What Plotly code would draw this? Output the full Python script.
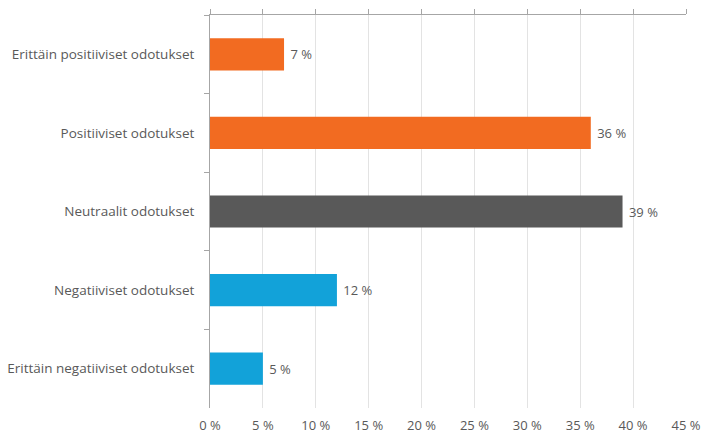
import plotly.graph_objects as go

categories = [
    "Erittäin positiiviset odotukset",
    "Positiiviset odotukset",
    "Neutraalit odotukset",
    "Negatiiviset odotukset",
    "Erittäin negatiiviset odotukset",
]
values = [7, 36, 39, 12, 5]
colors = ["#F26B21", "#F26B21", "#595959", "#12A2D9", "#12A2D9"]
x_ticks = [0, 5, 10, 15, 20, 25, 30, 35, 40, 45]
x_tick_labels = [f"{t} %" for t in x_ticks]

font_family = "Open Sans"
text_color = "#595959"

fig = go.Figure()

fig.add_trace(go.Bar(
    y=categories,
    x=values,
    orientation="h",
    marker=dict(color=colors, line=dict(width=0)),
    text=[f" {v} %" for v in values],
    textposition="outside",
    textfont=dict(size=13, color=text_color, family=font_family),
    cliponaxis=False,
    width=0.41,
))

# invisible trace so the top axis (ticks only) is drawn
fig.add_trace(go.Scatter(
    x=[0, 45], y=[categories[0], categories[0]],
    xaxis="x2", mode="markers", marker=dict(opacity=0),
    showlegend=False, hoverinfo="skip",
))

fig.update_layout(
    width=703, height=433,
    margin=dict(l=210, r=17, t=15, b=25),
    plot_bgcolor="white",
    paper_bgcolor="white",
    showlegend=False,
    font=dict(family=font_family, size=13, color=text_color),
    xaxis=dict(
        range=[0, 45],
        tickmode="array",
        tickvals=x_ticks,
        ticktext=x_tick_labels,
        showgrid=True,
        gridcolor="#E3E3E3",
        gridwidth=1,
        zeroline=False,
        showline=False,
        ticks="outside",
        ticklen=5,
        tickcolor="rgba(0,0,0,0)",
        tickfont=dict(size=13, color=text_color),
        automargin=False,
    ),
    xaxis2=dict(
        range=[0, 45],
        tickmode="array",
        tickvals=x_ticks,
        overlaying="x",
        side="top",
        showticklabels=False,
        showgrid=False,
        zeroline=False,
        showline=True,
        linecolor="#A6A6A6",
        linewidth=1,
        ticks="outside",
        ticklen=5,
        tickcolor="#A6A6A6",
        automargin=False,
    ),
    yaxis=dict(
        autorange="reversed",
        showline=True,
        linecolor="#A6A6A6",
        linewidth=1,
        ticks="outside",
        tickson="boundaries",
        ticklen=5,
        tickcolor="#A6A6A6",
        showgrid=False,
        ticklabelstandoff=12,
        tickfont=dict(size=13.5, color=text_color),
        automargin=False,
    ),
)

# drop the default page margin so the figure sits at the window's corner
fig.write_html(
    "out.html",
    config={"displayModeBar": False},
    post_script="document.body.style.margin='0';",
)
